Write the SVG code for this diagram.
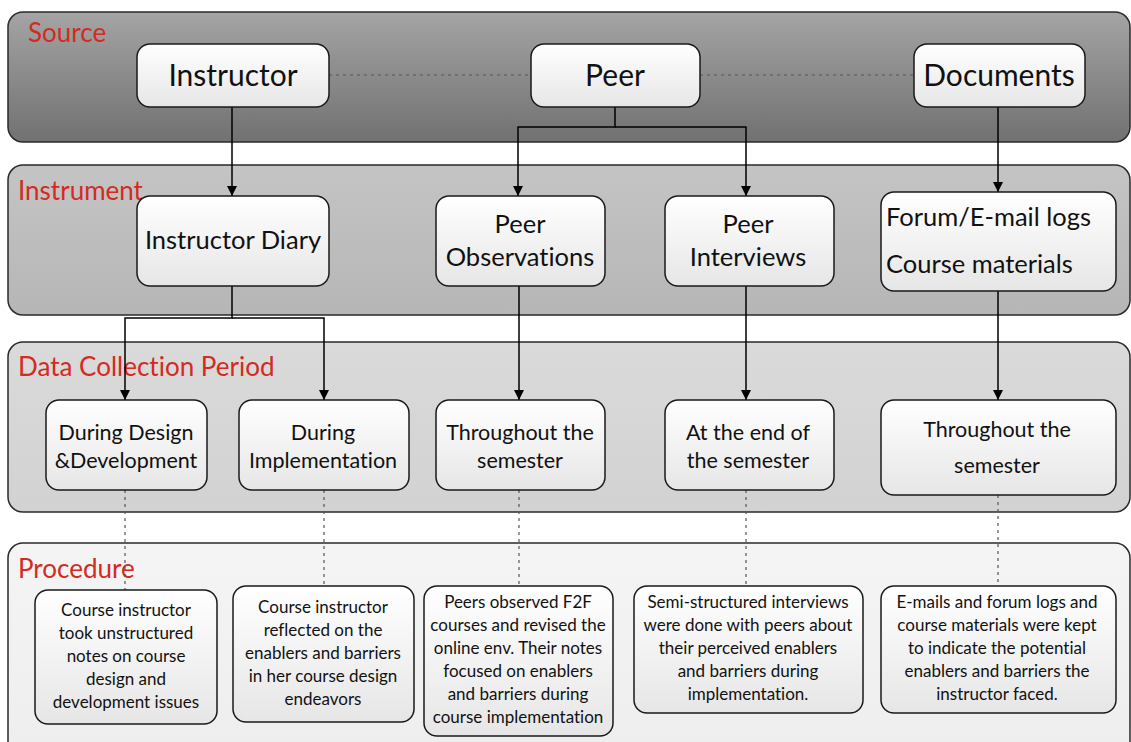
<svg xmlns="http://www.w3.org/2000/svg" width="1131" height="742" viewBox="0 0 1131 742">
<defs>
<linearGradient id="gSrc" x1="0" y1="0" x2="0" y2="1"><stop offset="0" stop-color="#a4a4a4"/><stop offset="1" stop-color="#717171"/></linearGradient>
<linearGradient id="gInst" x1="0" y1="0" x2="0" y2="1"><stop offset="0" stop-color="#c4c4c4"/><stop offset="1" stop-color="#b6b6b6"/></linearGradient>
<linearGradient id="gData" x1="0" y1="0" x2="0" y2="1"><stop offset="0" stop-color="#dadada"/><stop offset="1" stop-color="#d2d2d2"/></linearGradient>
<linearGradient id="gProc" x1="0" y1="0" x2="0" y2="1"><stop offset="0" stop-color="#f4f4f4"/><stop offset="1" stop-color="#eeeeee"/></linearGradient>
<linearGradient id="gNode" x1="0" y1="0" x2="0" y2="1"><stop offset="0" stop-color="#ffffff"/><stop offset="1" stop-color="#e6e6e6"/></linearGradient>
<marker id="arr" markerWidth="10" markerHeight="10" refX="10" refY="5" orient="auto" markerUnits="userSpaceOnUse" viewBox="0 0 10 10">
<path d="M0,0 L10,5 L0,10 Z" fill="#000"/>
</marker>
</defs>
<style>
.band{stroke:#2a2a2a;stroke-width:1.5}
.lbl{font-family:Lato,"Liberation Sans",sans-serif;fill:#d42a22;font-size:26px;font-variant-ligatures:none}
.node{fill:url(#gNode);stroke:#1a1a1a;stroke-width:1.5}
.t{font-family:Lato,"Liberation Sans",sans-serif;fill:#111;text-anchor:middle;font-variant-ligatures:none}
.big{font-size:30px}
.mid{font-size:25.5px}
.sm{font-size:21.5px}
.xs{font-size:17px}
.con{fill:none;stroke:#000;stroke-width:1.5}
.dot{fill:none;stroke:#555;stroke-width:1.2;stroke-dasharray:3,4}
</style>
<g id="bands">
<rect class="band" x="8" y="12" width="1122" height="130" rx="15" fill="url(#gSrc)"/>
<rect class="band" x="8" y="165" width="1122" height="150" rx="15" fill="url(#gInst)"/>
<rect class="band" x="8" y="342" width="1122" height="170" rx="15" fill="url(#gData)"/>
<rect class="band" x="8" y="543" width="1122" height="215" rx="15" fill="url(#gProc)"/>
<text class="lbl" x="28" y="42">Source</text>
<text class="lbl" x="18" y="200">Instrument</text>
<text class="lbl" x="18" y="376">Data Collection Period</text>
<text class="lbl" x="18" y="578">Procedure</text>
</g>
<g id="connectors">
<path class="dot" d="M329,75 H531 M700,75 H914"/>
<path class="con" d="M232,107 V196" marker-end="url(#arr)"/>
<path class="con" d="M615,107 V127 H518 V196" marker-end="url(#arr)"/>
<path class="con" d="M615,127 H746 V196" marker-end="url(#arr)"/>
<path class="con" d="M998,107 V192" marker-end="url(#arr)"/>
<path class="con" d="M232,286 V318 H125 V400" marker-end="url(#arr)"/>
<path class="con" d="M232,318 H324 V400" marker-end="url(#arr)"/>
<path class="con" d="M519,286 V400" marker-end="url(#arr)"/>
<path class="con" d="M746,286 V400" marker-end="url(#arr)"/>
<path class="con" d="M998,291 V400" marker-end="url(#arr)"/>
<path class="dot" d="M125,490 V590 M324,490 V586 M519,490 V586 M746,490 V586 M998,495 V586"/>
</g>
<g id="n-instructor"><rect class="node" x="137" y="44" width="192" height="63" rx="13"/><text class="t big" x="233" y="86">Instructor</text></g>
<g id="n-peer"><rect class="node" x="531" y="44" width="169" height="63" rx="13"/><text class="t big" x="615" y="86">Peer</text></g>
<g id="n-documents"><rect class="node" x="914" y="44" width="171" height="63" rx="13"/><text class="t big" x="999" y="86">Documents</text></g>
<g id="n-diary"><rect class="node" x="137" y="196" width="192" height="90" rx="13"/><text class="t mid" x="233" y="249">Instructor Diary</text></g>
<g id="n-peerobs"><rect class="node" x="436" y="196" width="169" height="90" rx="13"/><text class="t mid" x="520" y="233">Peer</text><text class="t mid" x="520" y="266">Observations</text></g>
<g id="n-peerint"><rect class="node" x="665" y="196" width="169" height="90" rx="13"/><text class="t mid" x="748" y="233">Peer</text><text class="t mid" x="748" y="266">Interviews</text></g>
<g id="n-forum"><rect class="node" x="881" y="192" width="235" height="99" rx="13"/><text class="t mid" x="886" y="226" style="text-anchor:start">Forum/E-mail logs</text><text class="t mid" x="886" y="273" style="text-anchor:start">Course materials</text></g>
<g id="n-dd"><rect class="node" x="46" y="400" width="161" height="90" rx="13"/><text class="t sm" x="126" y="440">During Design</text><text class="t sm" x="126" y="468">&amp;Development</text></g>
<g id="n-di"><rect class="node" x="239" y="400" width="170" height="90" rx="13"/><text class="t sm" x="323" y="440">During</text><text class="t sm" x="323" y="468">Implementation</text></g>
<g id="n-ts1"><rect class="node" x="436" y="400" width="169" height="90" rx="13"/><text class="t sm" x="520" y="440">Throughout the</text><text class="t sm" x="520" y="468">semester</text></g>
<g id="n-end"><rect class="node" x="665" y="400" width="169" height="90" rx="13"/><text class="t sm" x="748" y="440">At the end of</text><text class="t sm" x="748" y="468">the semester</text></g>
<g id="n-ts2"><rect class="node" x="881" y="400" width="235" height="95" rx="13"/><text class="t sm" x="997" y="437">Throughout the</text><text class="t sm" x="997" y="473">semester</text></g>
<g id="p1"><rect class="node" x="35" y="590" width="182" height="134" rx="13"/><text class="t xs" x="126" y="616">Course instructor</text><text class="t xs" x="126" y="639">took unstructured</text><text class="t xs" x="126" y="662">notes on course</text><text class="t xs" x="126" y="685">design and</text><text class="t xs" x="126" y="708">development issues</text></g>
<g id="p2"><rect class="node" x="233" y="586" width="181" height="136" rx="13"/><text class="t xs" x="323" y="613">Course instructor</text><text class="t xs" x="323" y="636">reflected on the</text><text class="t xs" x="323" y="659">enablers and barriers</text><text class="t xs" x="323" y="682">in her course design</text><text class="t xs" x="323" y="705">endeavors</text></g>
<g id="p3"><rect class="node" x="424" y="586" width="189" height="150" rx="13"/><text class="t xs" x="518" y="608">Peers observed F2F</text><text class="t xs" x="518" y="631">courses and revised the</text><text class="t xs" x="518" y="654">online env. Their notes</text><text class="t xs" x="518" y="677">focused on enablers</text><text class="t xs" x="518" y="700">and barriers during</text><text class="t xs" x="518" y="723">course implementation</text></g>
<g id="p4"><rect class="node" x="634" y="586" width="229" height="127" rx="13"/><text class="t xs" x="748" y="608">Semi-structured interviews</text><text class="t xs" x="748" y="631">were done with peers about</text><text class="t xs" x="748" y="654">their perceived enablers</text><text class="t xs" x="748" y="677">and barriers during</text><text class="t xs" x="748" y="700">implementation.</text></g>
<g id="p5"><rect class="node" x="881" y="586" width="235" height="127" rx="13"/><text class="t xs" x="997" y="608">E-mails and forum logs and</text><text class="t xs" x="997" y="631">course materials were kept</text><text class="t xs" x="997" y="654">to indicate the potential</text><text class="t xs" x="997" y="677">enablers and barriers the</text><text class="t xs" x="997" y="700">instructor faced.</text></g>
</svg>
